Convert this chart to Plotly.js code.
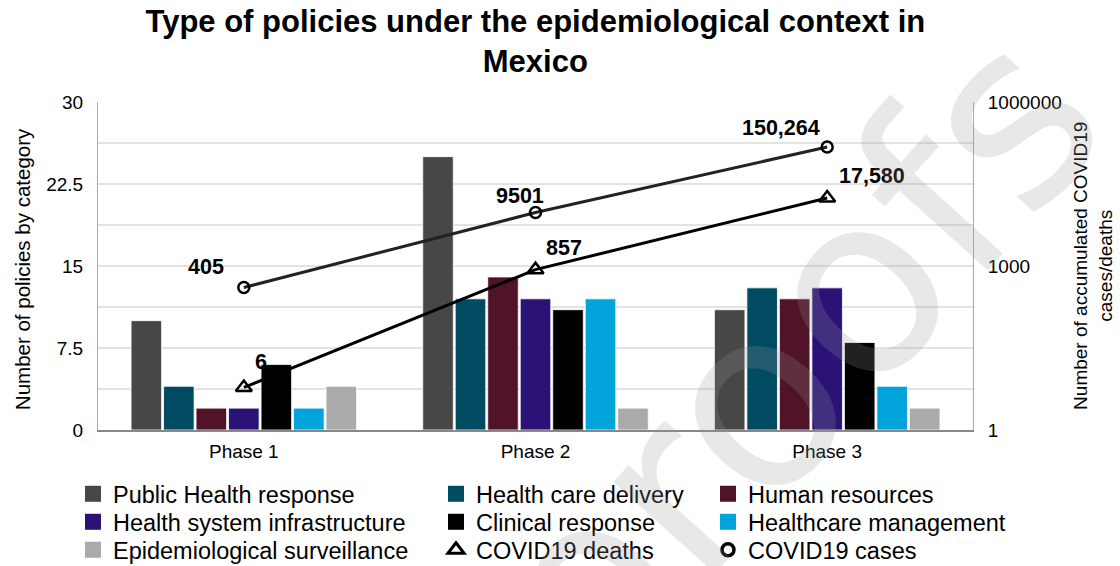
<!DOCTYPE html>
<html><head><meta charset="utf-8">
<script src="https://cdn.plot.ly/plotly-3.0.1.min.js"></script>
<style>html,body{margin:0;padding:0;background:#fff}#chart{width:1120px;height:566px}</style>
</head><body><div id="chart"></div>
<script>
const phases = ['Phase 1', 'Phase 2', 'Phase 3'];
const categories = ['Public Health response', 'Health care delivery', 'Human resources',
  'Health system infrastructure', 'Clinical response', 'Healthcare management', 'Epidemiological surveillance'];
const publicHealth = [10, 25, 11];
const careDelivery = [4, 12, 13];
const humanResources = [2, 14, 12];
const systemInfra = [2, 12, 13];
const clinical = [6, 11, 8];
const management = [2, 12, 4];
const surveillance = [4, 2, 2];
const deaths = [6, 857, 17580];
const cases = [405, 9501, 150264];
const deathLabels = ['6', '857', '17,580'];
const caseLabels = ['405', '9501', '150,264'];
const leftTicks = [0, 7.5, 15, 22.5, 30];
const rightTicks = [1, 1000, 1000000];

const colors = ['#474747', '#004b62', '#511327', '#2b1276', '#000000', '#00a3da', '#aaaaaa'];
const barSeries = [publicHealth, careDelivery, humanResources, systemInfra, clinical, management, surveillance];
const FONT = 'Liberation Sans, Arial, sans-serif';

// legend grid: one legend per entry, laid out in 3 columns x 3 rows
const legendNames = categories.concat(['COVID19 deaths', 'COVID19 cases']);
const legendCell = [[0, 0], [1, 0], [2, 0], [0, 1], [1, 1], [2, 1], [0, 2], [1, 2], [2, 2]];
const colX = [73, 436, 708];
const rowY = [494, 522, 550];
const legendId = i => (i === 0 ? 'legend' : 'legend' + (i + 1));

const traces = barSeries.map((vals, i) => ({
  type: 'bar', x: phases, y: vals, name: categories[i], showlegend: false,
  marker: {color: colors[i], line: {color: '#ffffff', width: 0.8}},
  hoverinfo: 'skip'
}));
traces.push({
  type: 'scatter', mode: 'lines+markers', x: phases, y: deaths, yaxis: 'y2',
  name: 'COVID19 deaths', showlegend: false,
  line: {color: '#000000', width: 3},
  marker: {symbol: 'triangle-up-open', size: 14, color: '#000', line: {width: 2.5, color: '#000'}}
});
traces.push({
  type: 'scatter', mode: 'lines+markers', x: phases, y: cases, yaxis: 'y2',
  name: 'COVID19 cases', showlegend: false,
  line: {color: '#222222', width: 3},
  marker: {symbol: 'circle-open', size: 11, color: '#000', line: {width: 2.5, color: '#000'}}
});
// legend entries (no data of their own)
categories.forEach((c, i) => traces.push({
  type: 'scatter', mode: 'markers', x: [null], y: [null], name: c, legend: legendId(i),
  marker: {symbol: 'square', size: 22, color: colors[i]}, hoverinfo: 'skip'
}));
traces.push({type: 'scatter', mode: 'markers', x: [null], y: [null], yaxis: 'y2', name: legendNames[7],
  legend: legendId(7), marker: {symbol: 'triangle-up-open', size: 14, color: '#000', line: {width: 3, color: '#000'}}});
traces.push({type: 'scatter', mode: 'markers', x: [null], y: [null], yaxis: 'y2', name: legendNames[8],
  legend: legendId(8), marker: {symbol: 'circle-open', size: 12, color: '#000', line: {width: 3.5, color: '#000'}}});

const annotations = [];
const caseShift = [[-38, 20], [-16, 17], [-46, 19]];
const deathShift = [[17, 25], [28, 22], [45, 22]];
phases.forEach((p, i) => {
  annotations.push({x: p, y: Math.log10(cases[i]), xref: 'x', yref: 'y2', text: caseLabels[i],
    showarrow: false, xshift: caseShift[i][0], yshift: caseShift[i][1],
    font: {family: FONT, size: 21.5, color: '#000', weight: 'bold'}});
  annotations.push({x: p, y: Math.log10(deaths[i]), xref: 'x', yref: 'y2', text: deathLabels[i],
    showarrow: false, xshift: deathShift[i][0], yshift: deathShift[i][1],
    font: {family: FONT, size: 21.5, color: '#000', weight: 'bold'}});
});
// axis titles
annotations.push({xref: 'paper', yref: 'paper', x: -0.087, y: 0.49, xanchor: 'center', yanchor: 'middle',
  text: 'Number of policies by category', textangle: -90, showarrow: false,
  font: {family: FONT, size: 20.5, color: '#000'}});
annotations.push({xref: 'paper', yref: 'paper', x: 1.137, y: 0.50, xanchor: 'center', yanchor: 'middle',
  text: 'Number of accumulated COVID19<br>cases/deaths', textangle: -90, showarrow: false,
  font: {family: FONT, size: 19, color: '#000'}});
// watermark
annotations.push({xref: 'paper', yref: 'paper', x: 0.791, y: 0.213, xanchor: 'center', yanchor: 'middle',
  text: 'proofs', showarrow: false, textangle: -48,
  font: {family: 'DejaVu Sans, sans-serif', size: 250, color: 'rgba(150,150,150,0.22)'}});

const layout = {
  width: 1120, height: 566,
  margin: {l: 98, r: 147, t: 102, b: 136, autoexpand: false},
  paper_bgcolor: '#ffffff', plot_bgcolor: '#ffffff',
  font: {family: FONT, size: 19, color: '#000'},
  title: {text: 'Type of policies under the epidemiological context in<br>Mexico',
    x: 0.478, xanchor: 'center', yref: 'container', y: 0.9435, yanchor: 'middle',
    font: {family: FONT, size: 31, color: '#000', weight: 'bold'}},
  barmode: 'group', bargap: 0.22, bargroupgap: 0.06,
  xaxis: {showline: true, linecolor: '#888', linewidth: 2, ticks: '', tickfont: {size: 19},
    showgrid: false, zeroline: false, ticklabelstandoff: 3},
  yaxis: {range: [0, 30], tickvals: leftTicks, ticktext: leftTicks.map(String), showgrid: true,
    gridcolor: '#e3e3e3', gridwidth: 1.2, zeroline: false, showline: true, linecolor: '#aaa',
    linewidth: 1, ticks: '', tickfont: {size: 19}, ticklabelstandoff: 10,
    minor: {dtick: 3.75, showgrid: true, gridcolor: '#e3e3e3', gridwidth: 1.2}},
  yaxis2: {type: 'log', overlaying: 'y', side: 'right', range: [0, 6], tickvals: rightTicks,
    ticktext: rightTicks.map(String), showgrid: false, zeroline: false, showline: true,
    linecolor: '#aaa', linewidth: 1, ticks: '', tickfont: {size: 19}, ticklabelstandoff: 10},
  annotations: annotations,
  showlegend: true
};
legendNames.forEach((n, i) => {
  layout[legendId(i)] = {orientation: 'v', xref: 'container', yref: 'container',
    x: colX[legendCell[i][0]] / 1120, y: 1 - rowY[legendCell[i][1]] / 566,
    xanchor: 'left', yanchor: 'middle', font: {family: FONT, size: 23.5, color: '#000'},
    bgcolor: 'rgba(0,0,0,0)', itemwidth: 30, itemsizing: 'trace'};
});

Plotly.newPlot('chart', traces, layout, {displayModeBar: false, staticPlot: true});
</script></body></html>
